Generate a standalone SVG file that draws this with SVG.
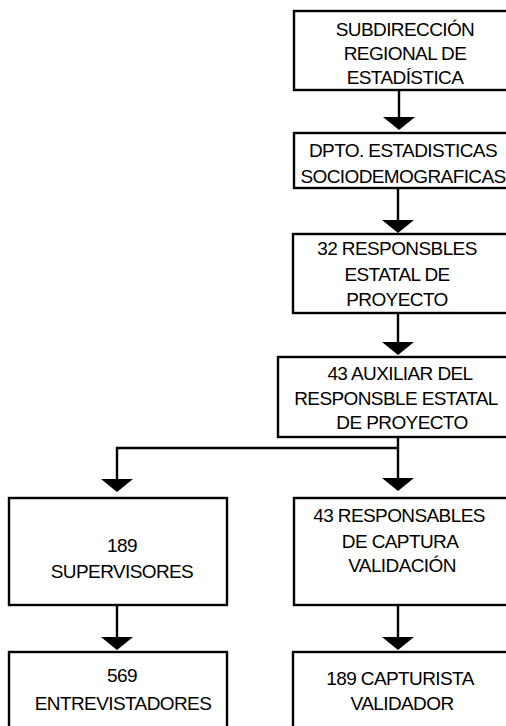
<svg xmlns="http://www.w3.org/2000/svg" width="506" height="726" viewBox="0 0 506 726">
<style>
.box{fill:#fff;stroke:#000;stroke-width:2.4}
.t{font-family:"Liberation Sans",Arial,sans-serif;font-size:19px;fill:#000;text-anchor:middle;letter-spacing:-0.6px}
.c{fill:none;stroke:#000;stroke-width:2.4}
</style>
<rect width="506" height="726" fill="#fff"/>
<g id="connectors">
<path class="c" d="M399,90 V118"/>
<path d="M383,117 H415 L399,130 Z"/>
<path class="c" d="M398,188 V221"/>
<path d="M382,220 H414 L398,233 Z"/>
<path class="c" d="M398,313 V343"/>
<path d="M382,342 H414 L398,355 Z"/>
<path class="c" d="M398,437 V479"/>
<path d="M382,478 H414 L398,491 Z"/>
<path class="c" d="M398,448 H117 V480"/>
<path d="M101,479 H133 L117,492 Z"/>
<path class="c" d="M117,605 V638"/>
<path d="M101,637 H133 L117,650 Z"/>
<path class="c" d="M398,605 V638"/>
<path d="M382,637 H414 L398,650 Z"/>
</g>
<g id="n1">
<rect class="box" x="294" y="11" width="230" height="79"/>
<text class="t" x="405" y="36">SUBDIRECCIÓN</text>
<text class="t" x="405" y="60">REGIONAL DE</text>
<text class="t" x="405" y="84">ESTADÍSTICA</text>
</g>
<g id="n2">
<rect class="box" x="294" y="133" width="230" height="55"/>
<text class="t" x="403" y="157">DPTO. ESTADISTICAS</text>
<text class="t" x="403" y="183">SOCIODEMOGRAFICAS</text>
</g>
<g id="n3">
<rect class="box" x="293" y="234" width="230" height="79"/>
<text class="t" x="397" y="255">32  RESPONSBLES</text>
<text class="t" x="397" y="281">ESTATAL DE</text>
<text class="t" x="397" y="306">PROYECTO</text>
</g>
<g id="n4">
<rect class="box" x="278" y="357" width="246" height="80"/>
<text class="t" x="400" y="380">43 AUXILIAR DEL</text>
<text class="t" x="396" y="405">RESPONSBLE ESTATAL</text>
<text class="t" x="402" y="429">DE PROYECTO</text>
</g>
<g id="n5">
<rect class="box" x="9" y="498" width="218" height="107"/>
<text class="t" x="122" y="552">189</text>
<text class="t" x="122" y="578">SUPERVISORES</text>
</g>
<g id="n6">
<rect class="box" x="294" y="498" width="230" height="107"/>
<text class="t" x="399" y="522">43 RESPONSABLES</text>
<text class="t" x="400" y="548">DE  CAPTURA</text>
<text class="t" x="402" y="572">VALIDACIÓN</text>
</g>
<g id="n7">
<rect class="box" x="9" y="652" width="218" height="90"/>
<text class="t" x="122" y="682">569</text>
<text class="t" x="123" y="710">ENTREVISTADORES</text>
</g>
<g id="n8">
<rect class="box" x="293" y="652" width="230" height="90"/>
<text class="t" x="400" y="685">189 CAPTURISTA</text>
<text class="t" x="402" y="710">VALIDADOR</text>
</g>
</svg>
